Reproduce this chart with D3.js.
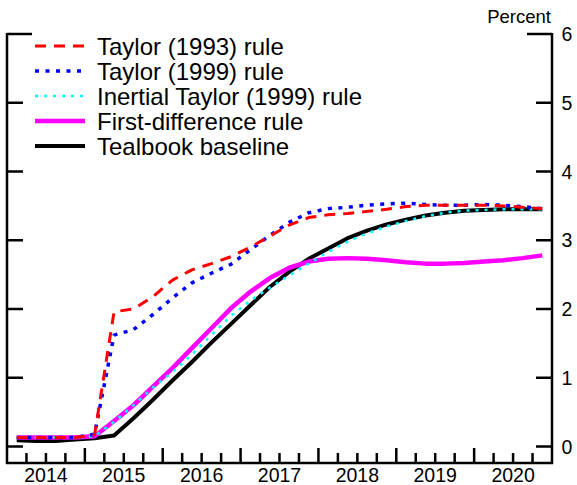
<!DOCTYPE html>
<html>
<head>
<meta charset="utf-8">
<script src="https://cdn.jsdelivr.net/npm/d3@7"></script>
<style>
  html, body { margin: 0; padding: 0; background: #fff; }
  svg { display: block; font-family: "Liberation Sans", Arial, sans-serif; }
</style>
</head>
<body>
<svg id="chart" width="577" height="485"></svg>
<script>
// ---- Data (quarterly, 2014Q1 - 2020Q4), percent ----
const quarters = [
  "2014Q1","2014Q2","2014Q3","2014Q4",
  "2015Q1","2015Q2","2015Q3","2015Q4",
  "2016Q1","2016Q2","2016Q3","2016Q4",
  "2017Q1","2017Q2","2017Q3","2017Q4",
  "2018Q1","2018Q2","2018Q3","2018Q4",
  "2019Q1","2019Q2","2019Q3","2019Q4",
  "2020Q1","2020Q2","2020Q3","2020Q4"
];
const taylor1993 = [0.13,0.13,0.13,0.13, 0.17,1.96,2.00,2.18, 2.42,2.57,2.66,2.76,
                    2.90,3.06,3.22,3.33, 3.37,3.39,3.42,3.45, 3.49,3.51,3.51,3.51,
                    3.51,3.50,3.48,3.46];
const taylor1999 = [0.13,0.13,0.13,0.13, 0.18,1.62,1.70,1.92, 2.16,2.38,2.52,2.65,
                    2.86,3.07,3.26,3.40, 3.46,3.48,3.51,3.53, 3.54,3.52,3.51,3.51,
                    3.52,3.51,3.49,3.46];
const inertial1999 = [0.13,0.13,0.13,0.13, 0.15,0.36,0.60,0.86, 1.08,1.34,1.62,1.90,
                      2.12,2.31,2.49,2.66, 2.83,2.98,3.10,3.20, 3.28,3.35,3.40,3.43,
                      3.44,3.45,3.45,3.45];
const firstDiff = [0.13,0.13,0.13,0.13, 0.15,0.37,0.60,0.87, 1.14,1.43,1.72,2.01,
                   2.25,2.45,2.60,2.69, 2.73,2.74,2.73,2.71, 2.68,2.66,2.66,2.67,
                   2.69,2.71,2.74,2.78];
const tealbook = [0.09,0.08,0.08,0.10, 0.12,0.16,0.41,0.68, 0.96,1.23,1.51,1.78,
                  2.05,2.32,2.54,2.73, 2.88,3.03,3.14,3.23, 3.30,3.36,3.40,3.43,
                  3.44,3.45,3.45,3.45];
const seriesNames = ["Taylor (1993) rule","Taylor (1999) rule","Inertial Taylor (1999) rule",
                     "First-difference rule","Tealbook baseline"];
const yearLabels = ["2014","2015","2016","2017","2018","2019","2020"];
const yTickValues = [0,1,2,3,4,5,6];
const yUnitLabel = "Percent";

// ---- Styles ----
const styles = [
  {color:"#ff0000", width:3,   dash:"11,8"},
  {color:"#0000ff", width:3.5, dash:"4,6.5"},
  {color:"#00ffff", width:2.5, dash:"3,6"},
  {color:"#ff00ff", width:4.5, dash:null},
  {color:"#000000", width:4,   dash:null}
];
const allSeries = [taylor1993, taylor1999, inertial1999, firstDiff, tealbook];

const svg = d3.select("#chart");
const L = 7, R = 552, T = 34, B = 463;
const x = d3.scaleLinear().domain([2014, 2021]).range([L, R]);
const y = d3.scaleLinear().domain([0, 6]).range([446.5, T]);

function qx(q) {
  const yr = +q.slice(0,4), qn = +q.slice(5);
  return yr + (qn - 0.5) / 4;
}

// ---- Lines ----
const drawOrder = [4, 3, 2, 1, 0];
const line = d3.line().x((d,i) => x(qx(quarters[i]))).y(d => y(d));
drawOrder.forEach(k => {
  const s = styles[k];
  const p = svg.append("path")
    .datum(allSeries[k])
    .attr("d", line)
    .attr("fill", "none")
    .attr("stroke", s.color)
    .attr("stroke-width", s.width)
    .attr("stroke-linejoin", "round");
  if (s.dash) p.attr("stroke-dasharray", s.dash);
});

// ---- Axes frame ----
const axisG = svg.append("g").attr("stroke", "#000").attr("stroke-width", 2.5).attr("fill", "none");
axisG.append("line").attr("x1", L).attr("x2", L).attr("y1", T - 1).attr("y2", B + 1);
axisG.append("line").attr("x1", R).attr("x2", R).attr("y1", T - 1).attr("y2", B + 1);
axisG.append("line").attr("x1", L - 1).attr("x2", R + 1).attr("y1", B).attr("y2", B);

yTickValues.forEach(v => {
  const len = v === 6 ? 25 : 16;
  axisG.append("line").attr("x1", L).attr("x2", L + len).attr("y1", y(v)).attr("y2", y(v));
  axisG.append("line").attr("x1", R - len).attr("x2", R).attr("y1", y(v)).attr("y2", y(v));
});

const qTicks = d3.range(2014.25, 2021, 0.25);
qTicks.forEach(t => {
  const major = Math.abs(t - Math.round(t)) < 1e-6;
  axisG.append("line").attr("x1", x(t)).attr("x2", x(t))
    .attr("y1", B).attr("y2", B - (major ? 15 : 10));
});

svg.append("g").selectAll("text").data(yTickValues).join("text")
  .attr("x", 567).attr("y", d => y(d)).attr("dy", "0.36em")
  .attr("text-anchor", "middle").attr("font-size", 19.5).attr("fill", "#000")
  .text(d => d);

svg.append("g").selectAll("text").data(yearLabels).join("text")
  .attr("x", d => x(+d + 0.5)).attr("y", 481.5)
  .attr("text-anchor", "middle").attr("font-size", 19.5).attr("fill", "#000")
  .text(d => d);

svg.append("text").attr("x", 551).attr("y", 23).attr("text-anchor", "end")
  .attr("font-size", 18.5).attr("fill", "#000").text(yUnitLabel);

// ---- Legend ----
const legY = [46, 71, 96, 121, 146];
seriesNames.forEach((name, k) => {
  const s = styles[k];
  const ln = svg.append("line")
    .attr("x1", 35).attr("x2", 85).attr("y1", legY[k]).attr("y2", legY[k])
    .attr("stroke", s.color).attr("stroke-width", s.width);
  if (s.dash) ln.attr("stroke-dasharray", s.dash);
  svg.append("text").attr("x", 97).attr("y", legY[k]).attr("dy", "0.36em")
    .attr("font-size", 24).attr("fill", "#000").text(name);
});
</script>
</body>
</html>
